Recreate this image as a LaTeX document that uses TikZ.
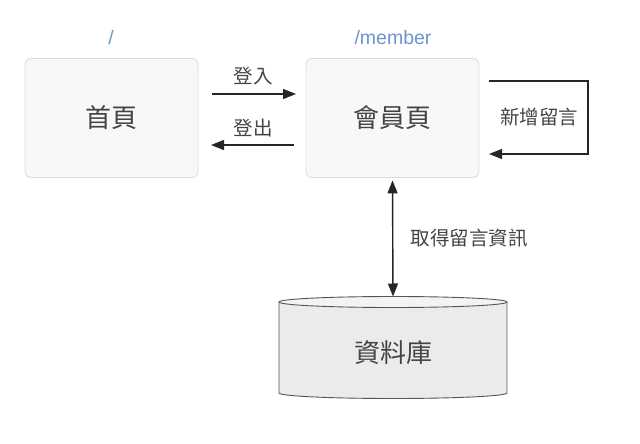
\documentclass[tikz,border=0pt]{standalone}
\usepackage{fontspec}
\setmainfont{Noto Sans CJK TC}
\setsansfont{Liberation Sans}
\usetikzlibrary{arrows.meta}
\definecolor{boxfill}{HTML}{F8F8F8}
\definecolor{boxline}{HTML}{DDDDDD}
\definecolor{txt}{HTML}{444444}
\definecolor{route}{HTML}{6F93D0}
\definecolor{dbfill}{HTML}{E9EBEC}
\definecolor{dbtop}{HTML}{F2F3F3}
\definecolor{dbline}{HTML}{555555}
\begin{document}
\begin{tikzpicture}[x=1pt,y=-1pt,
  page/.style={draw=boxline,fill=boxfill,rounded corners=6pt,line width=0.9pt,
    minimum width=173pt,minimum height=119pt,text=txt,font=\fontsize{26}{30}\selectfont},
  lbl/.style={text=txt,font=\fontsize{19.5}{23}\selectfont},
  path/.style={text=route,font=\sffamily\fontsize{19.5}{23}\selectfont},
  flow/.style={draw=black!85,line width=1.4pt,-{Triangle[length=13pt,width=10pt]}},
  both/.style={draw=black!85,line width=1.4pt,{Triangle[length=13pt,width=10pt]}-{Triangle[length=13pt,width=10pt]}}]
\useasboundingbox (0,0) rectangle (640,444);

% pages
\node[page] (home) at (111.5,118) {首頁};
\node[page] (member) at (392.5,118) {會員頁};
\node[path] (homeurl) at (111,38) {/};
\node[path] (memberurl) at (393,38) {/member};

% login / logout
\coordinate (inA) at (212,94);
\coordinate (inB) at (296,94);
\coordinate (outA) at (294,145);
\coordinate (outB) at (211,145);
\draw[flow] (inA) -- (inB);
\draw[flow] (outA) -- (outB);
\node[lbl] (login) at (253,76) {登入};
\node[lbl] (logout) at (253,128) {登出};

% add message loop
\coordinate (loopA) at (489,81);
\coordinate (loopB) at (588,81);
\coordinate (loopC) at (588,154);
\coordinate (loopD) at (489,154);
\draw[flow] (loopA) -- (loopB) -- (loopC) -- (loopD);
\node[lbl] (addmsg) at (539,117) {新增留言};

% database cylinder
\fill[dbfill] (279,302) -- (279,393) arc[start angle=180,end angle=0,x radius=114,y radius=5.5]
  -- (507,302) -- cycle;
\fill[dbtop] (393,302) ellipse[x radius=114,y radius=5.5];
\draw[dbline,line width=0.9pt] (393,302) ellipse[x radius=114,y radius=5.5];
\draw[dbline,line width=0.9pt] (279,302) -- (279,393) arc[start angle=180,end angle=0,x radius=114,y radius=5.5] -- (507,302);
\node[text=txt,font=\fontsize{26}{30}\selectfont] (db) at (393,353) {資料庫};
\coordinate (dbtopc) at (393,296.5);

% fetch messages
\draw[both] (member.south) ++(0,2.5) -- (dbtopc);
\node[lbl,anchor=west] (fetch) at (407,238) {取得留言資訊};
\end{tikzpicture}
\end{document}
